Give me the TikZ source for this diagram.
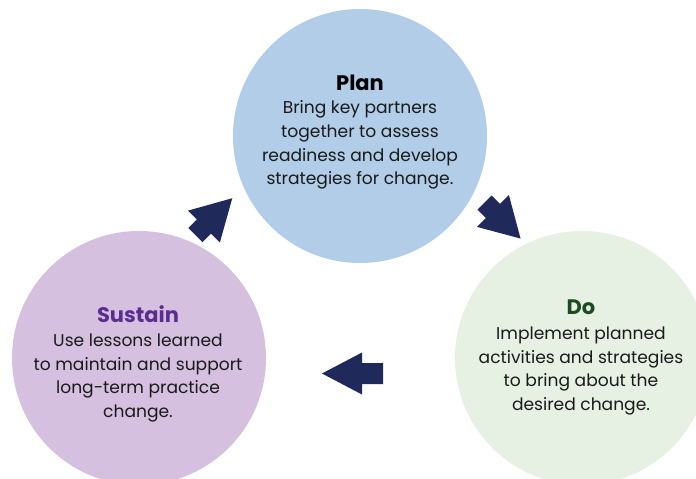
\documentclass[tikz,border=0pt]{standalone}
\usepackage{fontspec}
\setmainfont{Poppins}
\definecolor{planfill}{HTML}{B1CDE7}
\definecolor{dofill}{HTML}{E7F1E3}
\definecolor{sustainfill}{HTML}{D6C0DF}
\definecolor{dotitle}{HTML}{1D4A1E}
\definecolor{sustaintitle}{HTML}{5C2D91}
\definecolor{navy}{HTML}{1F2A5B}
\definecolor{bodytext}{HTML}{1A1A1A}
\tikzset{
  phase/.style={circle, inner sep=0pt, minimum size=254pt, fill=#1},
  phasetitle/.style={anchor=base, inner sep=0pt, font=\fontsize{21}{24}\selectfont\bfseries},
  phasebody/.style={align=center, inner sep=0pt, text=bodytext, font=\fontsize{17.1}{23.8}\selectfont},
  blockarrow/.style={fill=navy}
}
% block arrow: tail centre, angle, total length, head length, head half-width, shaft half-width
\newcommand\cyclearrow[6]{%
  \fill[blockarrow, shift={(#1)}, rotate=#2]
    (0,-#6) -- ({#3-#4},-#6) -- ({#3-#4},-#5) -- (#3,0) -- ({#3-#4},#5) -- ({#3-#4},#6) -- (0,#6) -- cycle;}
\begin{document}
\begin{tikzpicture}[x=1pt,y=-1pt]
  \useasboundingbox (0,0) rectangle (696,479);
  \clip (0,0) rectangle (696,479);
  \fill[white] (0,0) rectangle (696,479);

  % the three phases of the cycle
  \node[phase=planfill] (plan) at (360,136) {};
  \node[phase=dofill] (do) at (582,358) {};
  \node[phase=sustainfill] (sustain) at (139,358) {};

  \node[phasetitle, text=black] (plantitle) at (360,90) {Plan};
  \node[phasebody] (planbody) at (360,145) {Bring key partners\\together to assess\\readiness and develop\\strategies for change.};

  \node[phasetitle, text=dotitle] (dotitle) at (581,314) {Do};
  \node[phasebody] (dobody) at (581,371) {Implement planned\\activities and strategies\\to bring about the\\desired change.};

  \node[phasetitle, text=sustaintitle] (sustaintitle) at (138,322) {Sustain};
  \node[phasebody] (sustainbody) at (138,378) {Use lessons learned\\to maintain and support\\long-term practice\\change.};

  % arrows between the phases
  \coordinate (sustaintoplan) at (195.5,235);
  \coordinate (plantodo) at (484.5,202.5);
  \coordinate (dotosustain) at (383,373.5);
  \cyclearrow{sustaintoplan}{45}{52}{40}{22.5}{10}
  \cyclearrow{plantodo}{-45}{51}{39}{22.5}{10}
  \cyclearrow{dotosustain}{180}{61}{40}{21}{10.5}
\end{tikzpicture}
\end{document}
